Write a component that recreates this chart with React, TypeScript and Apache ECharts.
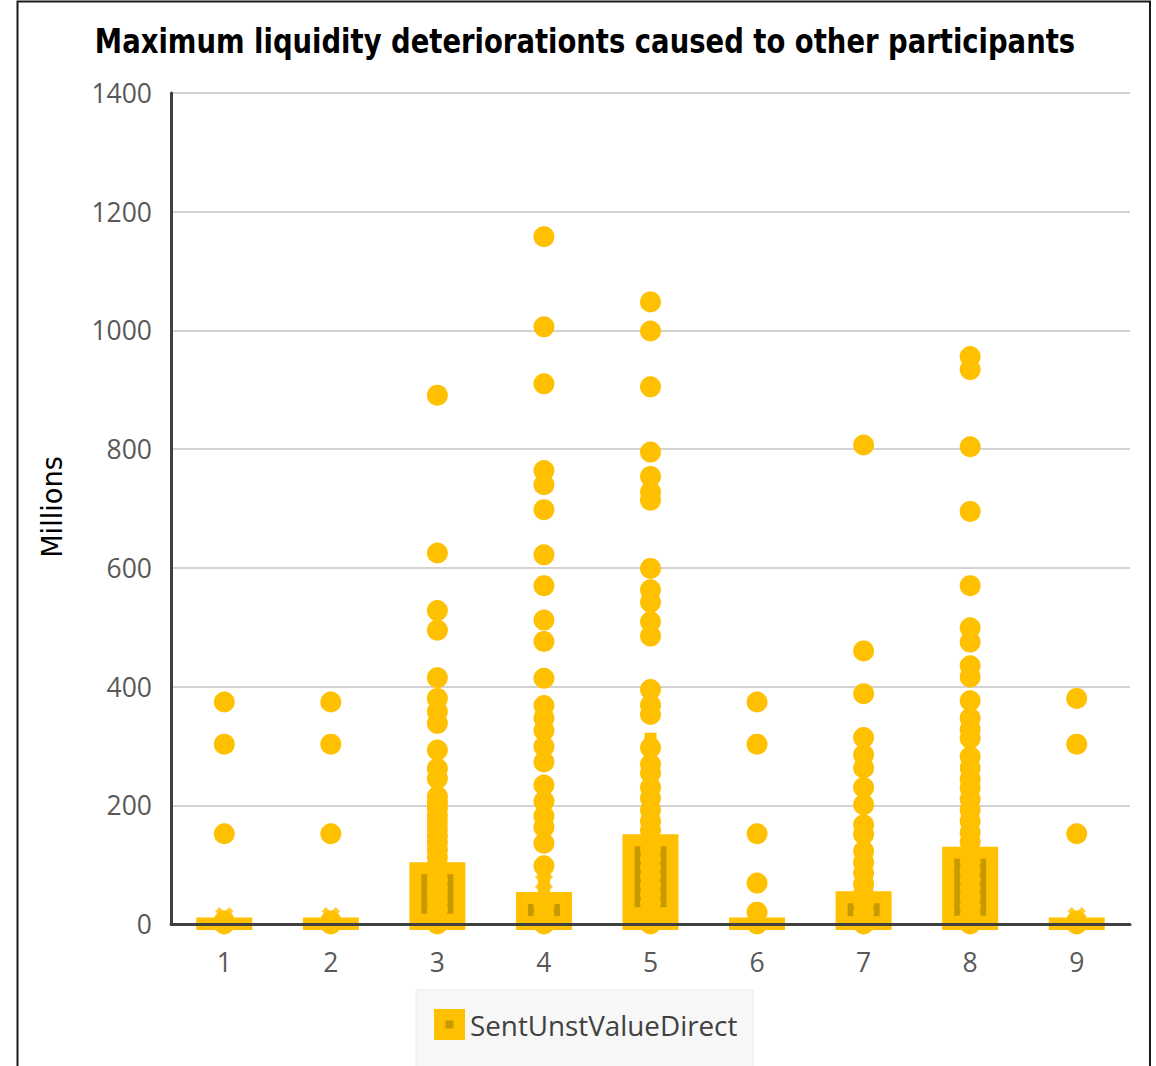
import React, { useEffect, useRef } from "react";
import * as echarts from "echarts";

const categories = ["1", "2", "3", "4", "5", "6", "7", "8", "9"];
const q1Values = [0, 0, 0, 0, 0, 0, 0, 0, 0];
const medianValues = [0, 0, 7, 3, 18, 0, 3, 4, 0];
const q3Values = [1, 1, 94, 44, 141, 1, 45, 120, 1];
const whiskerHighValues = [1, 1, 215, 98, 313, 1, 104, 282, 1];
const meanValues = [13, 13, 60, 71, 95, 15, 35, 75, 13];

const points1 = [374, 303, 152, 5, 0];
const points2 = [374, 303, 152, 5, 0];
const points3 = [891, 625, 528, 495, 415, 380, 358, 338, 293, 262, 245, 215, 205, 195, 183, 172, 160, 148, 137, 125, 113, 100, 88, 75, 62, 50, 38, 25, 12, 0];
const points4 = [1158, 1006, 910, 764, 740, 698, 622, 570, 512, 476, 414, 368, 347, 326, 299, 273, 234, 207, 182, 163, 136, 98, 30, 15, 0];
const points5 = [1048, 999, 905, 795, 754, 728, 714, 599, 563, 542, 509, 485, 395, 369, 353, 297, 269, 254, 230, 212, 192, 173, 158, 140, 125, 110, 95, 80, 65, 50, 35, 20, 5, 0];
const points6 = [374, 303, 152, 69, 20, 0];
const points7 = [807, 460, 388, 314, 285, 263, 230, 201, 167, 151, 123, 104, 86, 67, 50, 35, 20, 5, 0];
const points8 = [956, 934, 804, 695, 570, 499, 475, 435, 416, 376, 347, 328, 313, 282, 263, 244, 229, 210, 192, 173, 154, 138, 120, 105, 90, 75, 60, 45, 30, 15, 0];
const points9 = [380, 303, 152, 5, 0];
const allPoints = [points1, points2, points3, points4, points5, points6, points7, points8, points9];

const yTicks = { min: 0, max: 1400, interval: 200 };
const seriesName = "SentUnstValueDirect";
const titleText = "Maximum liquidity deteriorationts caused to other participants";
const yAxisTitle = "Millions";

const YELLOW = "#FFC000";
const DARK = "#C99A00";

export default function App() {
  const ref = useRef<HTMLDivElement>(null);
  useEffect(() => {
    document.body.style.margin = "0";
    const chart = echarts.init(ref.current!, null, { renderer: "svg" });

    const boxData = categories.map((_, i) => [i, q1Values[i], medianValues[i], q3Values[i], whiskerHighValues[i]]);
    const scatterData: number[][] = [];
    allPoints.forEach((arr, i) => arr.forEach((v) => scatterData.push([i, v])));
    const meanData = meanValues.map((v, i) => [i, v]);

    const xShape = "path://M3.5,0 L6.5,0 L6.5,3.5 L10,3.5 L10,6.5 L6.5,6.5 L6.5,10 L3.5,10 L3.5,6.5 L0,6.5 L0,3.5 L3.5,3.5 Z";

    chart.setOption({
      animation: false,
      grid: { left: 171, right: 26, top: 93, bottom: 142 },
      xAxis: {
        type: "category",
        data: categories,
        z: 5,
        axisLine: { lineStyle: { color: "#404040", width: 3 } },
        axisTick: { show: false },
        axisLabel: { fontSize: 26.5, color: "#595959", fontFamily: "Open Sans", margin: 24 },
      },
      yAxis: {
        type: "value",
        min: yTicks.min,
        max: yTicks.max,
        interval: yTicks.interval,
        axisLine: { show: true, lineStyle: { color: "#404040", width: 3 } },
        axisTick: { show: false },
        axisLabel: {
          fontSize: 26.5,
          color: "#595959",
          fontFamily: "Open Sans",
          margin: 19,
          formatter: (v: number) => String(v),
        },
        splitLine: { lineStyle: { color: "#C4C4C4", width: 1.5 } },
      },
      series: [
        {
          type: "custom",
          name: seriesName,
          z: 2,
          data: boxData,
          renderItem: (params: any, api: any) => {
            const idx = api.value(0);
            const pQ1 = api.coord([idx, api.value(1)]);
            const pMed = api.coord([idx, api.value(2)]);
            const pQ3 = api.coord([idx, api.value(3)]);
            const pWh = api.coord([idx, api.value(4)]);
            const x = pQ1[0];
            const w = 44;
            const children: any[] = [];
            if (api.value(4) > api.value(3)) {
              children.push({
                type: "line",
                shape: { x1: x, y1: pQ3[1], x2: x, y2: pWh[1] },
                style: { stroke: YELLOW, lineWidth: 12 },
              });
              children.push({
                type: "rect",
                shape: { x: x - 6, y: pWh[1] - 5.5, width: 12, height: 11 },
                style: { fill: YELLOW },
              });
            }
            children.push({
              type: "rect",
              shape: { x: x - w / 2, y: pQ3[1], width: w, height: Math.max(pQ1[1] - pQ3[1], 0.5) },
              style: { fill: DARK, stroke: YELLOW, lineWidth: 12 },
            });
            children.push({
              type: "line",
              shape: { x1: x - w / 2, y1: pMed[1], x2: x + w / 2, y2: pMed[1] },
              style: { stroke: YELLOW, lineWidth: 12 },
            });
            return { type: "group", children };
          },
        },
        {
          type: "scatter",
          z: 3,
          data: meanData,
          symbol: xShape,
          symbolRotate: 45,
          symbolSize: 20,
          itemStyle: { color: YELLOW },
        },
        {
          type: "scatter",
          z: 4,
          data: scatterData,
          symbol: "circle",
          symbolSize: 21,
          itemStyle: { color: YELLOW, opacity: 1 },
        },
      ],
      graphic: [
        {
          type: "rect",
          shape: { x: 17.5, y: 1.5, width: 1132.5, height: 1200 },
          style: { fill: "none", stroke: "#1a1a1a", lineWidth: 2 },
          silent: true,
        },
        {
          type: "text",
          x: 585,
          y: 42,
          scaleX: 0.925,
          style: {
            text: titleText,
            fill: "#000",
            font: "bold 33px 'DejaVu Sans Condensed', sans-serif",
            textAlign: "center",
            textVerticalAlign: "middle",
          },
        },
        {
          type: "text",
          x: 52,
          y: 507,
          rotation: Math.PI / 2,
          scaleX: 1.08,
          style: {
            text: yAxisTitle,
            fill: "#000",
            font: "28px 'DejaVu Sans Condensed', sans-serif",
            textAlign: "center",
            textVerticalAlign: "middle",
          },
        },
        {
          type: "rect",
          shape: { x: 416, y: 990, width: 337, height: 100 },
          style: { fill: "#F7F7F7", stroke: "#EBEBEB", lineWidth: 1 },
        },
        {
          type: "rect",
          shape: { x: 434, y: 1009, width: 31, height: 31 },
          style: { fill: YELLOW },
        },
        {
          type: "rect",
          shape: { x: 445.5, y: 1020.5, width: 8, height: 8 },
          style: { fill: DARK },
        },
        {
          type: "text",
          x: 470,
          y: 1025,
          style: {
            text: seriesName,
            fill: "#404040",
            font: "27.8px 'Open Sans', sans-serif",
            textAlign: "left",
            textVerticalAlign: "middle",
          },
        },
      ],
    });
    return () => chart.dispose();
  }, []);
  return <div ref={ref} style={{ width: 1156, height: 1066 }} />;
}
